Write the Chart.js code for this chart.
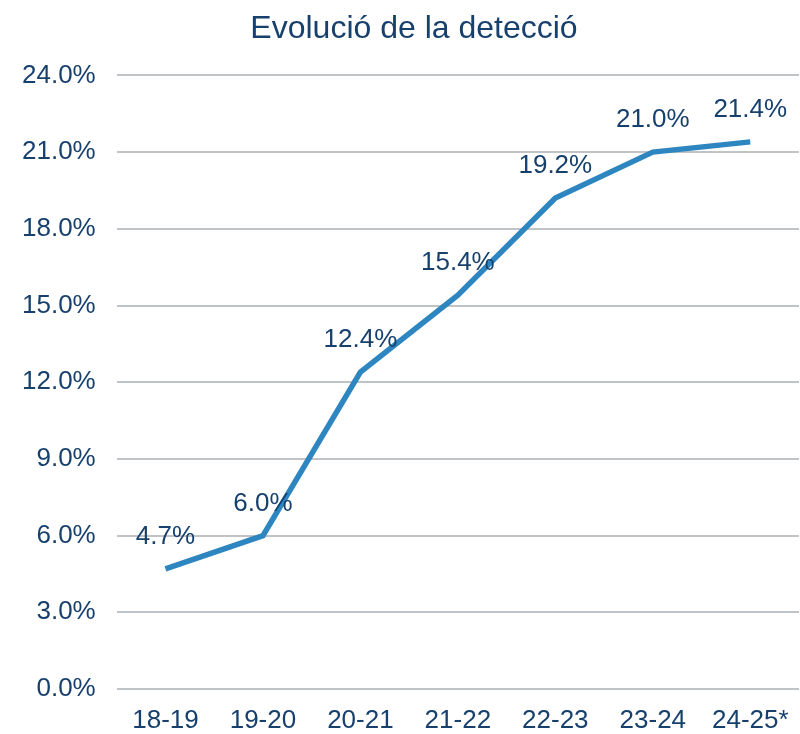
<!DOCTYPE html>
<html>
<head>
<meta charset="utf-8">
<script src="https://cdn.jsdelivr.net/npm/chart.js@4"></script>
<style>
  body { margin: 0; background: #fff; }
  #chartArea { width: 800px; height: 734px; }
</style>
</head>
<body>
<div id="chartArea"><canvas id="detectionChart" width="800" height="734"></canvas></div>
<script>
// data
const seasons = ['18-19', '19-20', '20-21', '21-22', '22-23', '23-24', '24-25*'];
const detectionRate = [4.7, 6.0, 12.4, 15.4, 19.2, 21.0, 21.4];
const yTicks = [0, 3, 6, 9, 12, 15, 18, 21, 24];

const textColor = '#17406d';
const lineColor = '#2e86c1';
const fontFamily = '"Liberation Sans", Arial, sans-serif';

// simple value labels above each point
const valueLabels = {
  id: 'valueLabels',
  afterLayout(chart) {
    // title sits a bit right of the canvas centre in the original
    if (chart.titleBlock) chart.titleBlock.left += 28;
  },
  afterDatasetsDraw(chart) {
    const ctx = chart.ctx;
    const meta = chart.getDatasetMeta(0);
    ctx.save();
    ctx.font = '26px ' + fontFamily;
    ctx.fillStyle = textColor;
    ctx.textAlign = 'center';
    ctx.textBaseline = 'middle';
    meta.data.forEach((pt, i) => {
      ctx.fillText(detectionRate[i].toFixed(1) + '%', pt.x, pt.y - 32);
    });
    ctx.restore();
  }
};

const ctx = document.getElementById('detectionChart').getContext('2d');
const detectionChart = new Chart(ctx, {
  type: 'line',
  data: {
    labels: seasons,
    datasets: [{
      label: 'Detecció',
      data: detectionRate,
      borderColor: lineColor,
      backgroundColor: 'transparent',
      borderWidth: 5.5,
      pointRadius: 0,
      tension: 0,
      fill: false,
    }],
  },
  options: {
    responsive: false,
    animation: false,
    layout: { padding: { left: 1, right: 1, top: 0, bottom: 0 } },
    plugins: {
      legend: { display: false },
      tooltip: { enabled: false },
      title: {
        display: true,
        text: 'Evolució de la detecció',
        color: textColor,
        font: { family: fontFamily, size: 32, weight: 'normal' },
        padding: { top: 10, bottom: 27 },
      },
    },
    scales: {
      x: {
        offset: true,
        grid: { display: false },
        border: { display: false },
        afterFit: (axis) => { axis.height = 45; },
        ticks: {
          color: textColor,
          padding: 8,
          maxRotation: 0,
          font: { family: fontFamily, size: 26 },
        },
      },
      y: {
        min: 0,
        max: 24,
        afterBuildTicks: (axis) => {
          axis.ticks = yTicks.map(v => ({ value: v }));
        },
        grid: { color: '#c0c4c6', lineWidth: 2, drawTicks: false },
        border: { display: false },
        ticks: {
          color: textColor,
          padding: 21,
          callback: (v) => v.toFixed(1) + '%',
          font: { family: fontFamily, size: 26 },
        },
      },
    },
  },
  plugins: [valueLabels],
});
</script>
</body>
</html>
